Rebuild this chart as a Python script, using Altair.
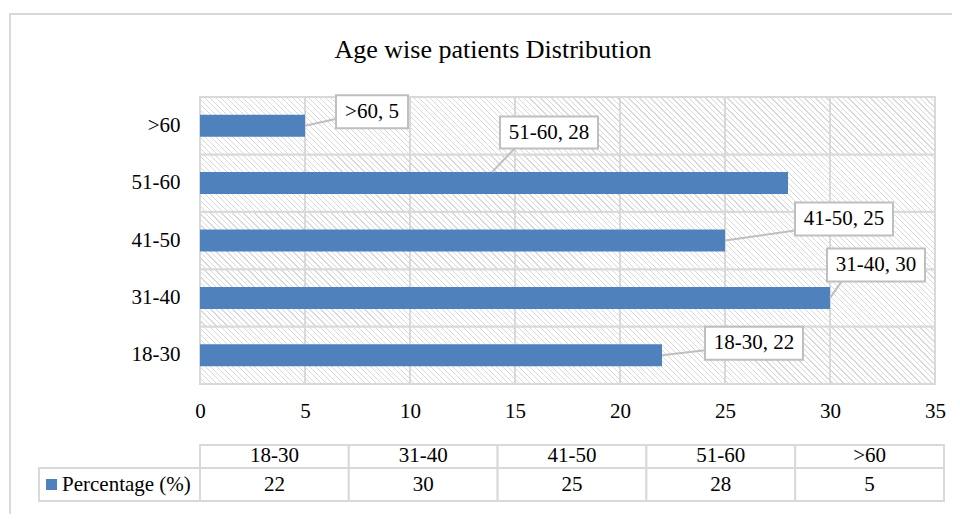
import altair as alt
import pandas as pd

# ---------------- data ----------------
categories = ["18-30", "31-40", "41-50", "51-60", ">60"]
percentages = [22, 30, 25, 28, 5]
series_name = "Percentage (%)"
title_text = "Age wise patients Distribution"
x_ticks = [0, 5, 10, 15, 20, 25, 30, 35]

# ------------- callout layout (pixel offsets from each bar end) -------------
box_dx = [92, 46, 119, -239, 67]
box_dy = [-12, -33, -21.5, -50.5, -14]
box_w = [98, 98, 98, 98, 72]
box_h = [33, 33, 33, 32, 33]
lead_x0 = [0, 0, 0, -296, 0]
lead_y0 = [0, 0, 0, -11, 0]
lead_x1 = [43, 12, 70, -273, 32]
lead_y1 = [-5, -17, -10, -35, -7]

# ------------- styling -------------
FONT = "Liberation Serif"
BAR = "#4f81bd"
GRID = "#d9d9d9"
HATCH = "#d9d9d9"
CALLOUT = "#bfbfbf"
W, H = 735, 287
ROW_H = H / len(categories)

# diagonal hatch as a striped linear gradient (objectBoundingBox units)
period = 5.5
n_str = int(round((W + ROW_H) / period))
frac = 0.22
c = (W + ROW_H) / (W * W + ROW_H * ROW_H)
stops = []
for k in range(n_str):
    a = k / n_str
    b = (k + frac) / n_str
    e = (k + 1) / n_str
    stops += [alt.GradientStop(offset=a, color=HATCH),
              alt.GradientStop(offset=b, color=HATCH),
              alt.GradientStop(offset=b, color="#ffffff"),
              alt.GradientStop(offset=e, color="#ffffff")]
hatch = alt.LinearGradient(gradient="linear", x1=0, y1=1, x2=c * W, y2=1 - c * ROW_H,
                           stops=stops)

df = pd.DataFrame({"cat": categories, "value": percentages})
df["label"] = [f"{a}, {b}" for a, b in zip(categories, percentages)]


def yscale():
    return alt.Scale(domain=list(reversed(categories)), paddingInner=0, paddingOuter=0)


def xscale():
    return alt.Scale(domain=[0, 35], nice=False, zero=True)


yaxis = alt.Axis(ticks=False, domain=False, grid=False, labelFont=FONT,
                 labelFontSize=21, labelColor="black", labelPadding=20)
Y = alt.Y("cat:N", scale=yscale(), title=None, axis=yaxis)
X = alt.X("value:Q", scale=xscale(), title=None,
          axis=alt.Axis(values=x_ticks, ticks=False, domain=False, grid=False,
                        labelFont=FONT, labelFontSize=21, labelColor="black",
                        labelPadding=27, labelBaseline="middle", labelFlush=False,
                        labelOverlap=False))
Xn = alt.X("value:Q", scale=xscale(), title=None, axis=None)

base = alt.Chart(df)

bg = base.mark_rect(fill=hatch, stroke=GRID, strokeWidth=2).encode(
    y=Y,
    x=alt.datum(x_ticks[0], scale=xscale(), axis=None),
    x2=alt.datum(x_ticks[-1]),
)

grid = alt.Chart(pd.DataFrame({"t": x_ticks[1:-1]})).mark_rule(
    color=GRID, strokeWidth=2).encode(x=alt.X("t:Q", scale=xscale(), axis=None))

bars = base.mark_bar(size=22, color=BAR).encode(x=X, y=Y)

callouts = []
for i, cat in enumerate(categories):
    d = alt.Chart(df[df["cat"] == cat])
    hh = round(box_h[i] / box_w[i], 4)
    path = f"M-1,-{hh}L1,-{hh}L1,{hh}L-1,{hh}Z"
    lead = d.mark_rule(color=CALLOUT, strokeWidth=2,
                       xOffset=lead_x0[i], yOffset=lead_y0[i],
                       x2Offset=lead_x1[i], y2Offset=lead_y1[i]).encode(
        x=Xn, x2="value", y=Y, y2="cat")
    box = d.mark_point(shape=path, size=box_w[i] ** 2, filled=True, fill="white",
                       stroke=CALLOUT, strokeWidth=2, opacity=1,
                       xOffset=box_dx[i], yOffset=box_dy[i]).encode(x=Xn, y=Y)
    txt = d.mark_text(font=FONT, fontSize=21, color="black", align="center",
                      baseline="middle", xOffset=box_dx[i], yOffset=box_dy[i]).encode(
        x=Xn, y=Y, text="label:N")
    callouts += [lead, box, txt]

# ---------------- data table under the chart ----------------
def tx():
    return alt.X("cat:N", axis=None, title=None,
                 scale=alt.Scale(domain=categories, range=[0, 744],
                                 paddingInner=0, paddingOuter=0))


thead = base.mark_rect(fill="white", stroke=GRID, strokeWidth=2).encode(
    x=tx(), y=alt.value(348), y2=alt.value(371))
tval = base.mark_rect(fill="white", stroke=GRID, strokeWidth=2).encode(
    x=tx(), y=alt.value(371), y2=alt.value(404))
thead_t = base.mark_text(font=FONT, fontSize=21, color="black").encode(
    x=tx(), y=alt.value(359), text="cat:N")
tval_t = base.mark_text(font=FONT, fontSize=21, color="black").encode(
    x=tx(), y=alt.value(388), text="value:Q")

sdf = pd.DataFrame({"series": [series_name], "title": [title_text]})
lcell = alt.Chart(sdf).mark_rect(fill="white", stroke=GRID, strokeWidth=2).encode(
    x=alt.value(-161), x2=alt.value(0), y=alt.value(371), y2=alt.value(404))
lsq = alt.Chart(sdf).mark_square(size=121, color=BAR, opacity=1).encode(
    x=alt.value(-148.5), y=alt.value(387.5))
ltxt = alt.Chart(sdf).mark_text(font=FONT, fontSize=21, color="black", align="left",
                                baseline="middle").encode(
    x=alt.value(-138), y=alt.value(388), text="series:N")

frame = alt.Chart(sdf).mark_rect(fillOpacity=0, stroke=GRID, strokeWidth=2).encode(
    x=alt.value(-190), x2=alt.value(800), y=alt.value(-83), y2=alt.value(500))

title = alt.Chart(sdf).mark_text(font=FONT, fontSize=26, color="black", align="center",
                                 baseline="middle").encode(
    x=alt.value(293), y=alt.value(-47), text="title:N")

chart = alt.layer(
    frame, bg, grid, bars, *callouts, thead, tval, thead_t, tval_t, lcell, lsq, ltxt,
    title
).resolve_scale(
    x="independent"
).properties(
    width=W, height=H,
    autosize="none",
    padding={"left": 192, "top": 89, "right": 17, "bottom": 130},
).configure_view(stroke=None)

chart.save("out.html", embed_options={"renderer": "svg", "actions": False})
